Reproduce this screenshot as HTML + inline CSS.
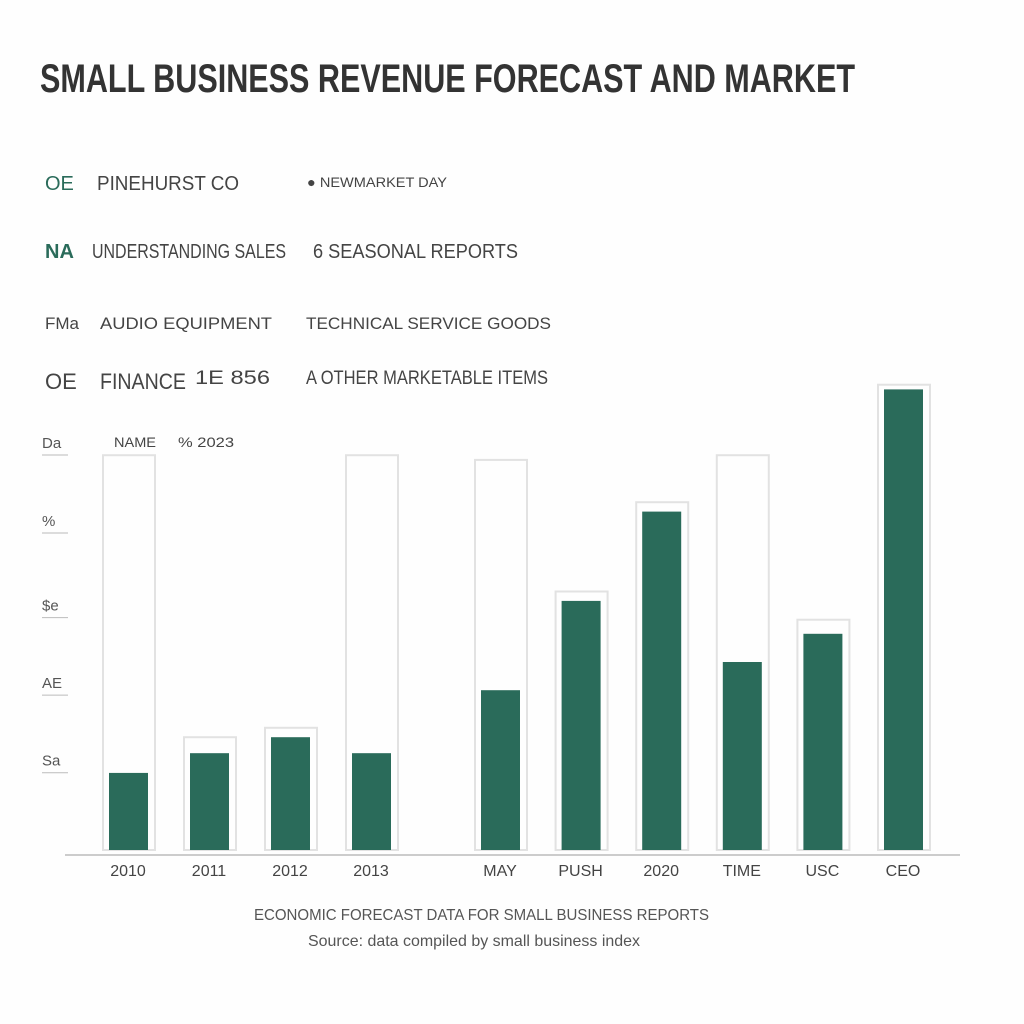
<!DOCTYPE html>
<html><head><meta charset="utf-8"><style>
body{margin:0;background:#fff;}
svg{display:block;font-family:"Liberation Sans",sans-serif;}
</style></head><body>
<svg width="1024" height="1024" viewBox="0 0 1024 1024">
<rect width="1024" height="1024" fill="#fefefe"/>
<text x="40" y="92" font-size="40" font-weight="bold" fill="#333" textLength="815" lengthAdjust="spacingAndGlyphs">SMALL BUSINESS REVENUE FORECAST AND MARKET</text>
<g font-size="20" fill="#444">
<text x="45" y="190" fill="#2a6b5a">OE</text>
<text x="97" y="190" textLength="142" lengthAdjust="spacingAndGlyphs">PINEHURST CO</text>
<text x="307" y="187" font-size="14" textLength="140" lengthAdjust="spacingAndGlyphs">● NEWMARKET DAY</text>
<text x="45" y="258" fill="#2a6b5a" font-weight="bold">NA</text>
<text x="92" y="258" textLength="194" lengthAdjust="spacingAndGlyphs">UNDERSTANDING SALES</text>
<text x="313" y="258" textLength="205" lengthAdjust="spacingAndGlyphs">6 SEASONAL REPORTS</text>
<text x="45" y="329" font-size="17">FMa</text>
<text x="100" y="329" font-size="17" textLength="172" lengthAdjust="spacingAndGlyphs">AUDIO EQUIPMENT</text>
<text x="306" y="329" font-size="17" textLength="245" lengthAdjust="spacingAndGlyphs">TECHNICAL SERVICE GOODS</text>
<text x="45" y="389" font-size="22">OE</text>
<text x="100" y="389" font-size="22" textLength="86" lengthAdjust="spacingAndGlyphs">FINANCE</text>
<text x="195" y="384" font-size="19" textLength="75" lengthAdjust="spacingAndGlyphs">1E 856</text>
<text x="306" y="384" font-size="19" textLength="242" lengthAdjust="spacingAndGlyphs">A OTHER MARKETABLE ITEMS</text>
<text x="114" y="447" font-size="14" textLength="42" lengthAdjust="spacingAndGlyphs">NAME</text>
<text x="178" y="447" font-size="14" textLength="56" lengthAdjust="spacingAndGlyphs">% 2023</text>
</g>
<g id="plot"></g>
<text x="254" y="920" font-size="16" fill="#555" textLength="455" lengthAdjust="spacingAndGlyphs">ECONOMIC FORECAST DATA FOR SMALL BUSINESS REPORTS</text>
<text x="308" y="946" font-size="16" fill="#555" textLength="332" lengthAdjust="spacingAndGlyphs">Source: data compiled by small business index</text>
</svg>
<script>
const categories=["2010","2011","2012","2013","MAY","PUSH","2020","TIME","USC","CEO"];
const values=[16.4,20.6,24,20.6,34,53,72,40,46,98];
const outlineValues=[84,24,26,84,83,55,74,84,49,99];
const yTicks=[19,35.5,52,70,86.6];
const yTickLabels=["Sa","AE","$e","%","Da"];
const NS="http://www.w3.org/2000/svg";
const plot=document.getElementById('plot');
const base=850,plotTop=380;
const y=v=>base-(base-plotTop)*v/100;
const x=i=>i<4?109+i*81:481+(i-4)*80.6;
function mk(t,a){const e=document.createElementNS(NS,t);for(const k in a)e.setAttribute(k,a[k]);plot.appendChild(e);return e;}
yTicks.forEach((t,i)=>{
 const e=mk('text',{x:42,y:y(t)+5,'font-size':15,fill:'#555'});e.textContent=yTickLabels[i];
 
 
 const l=mk('line',{x1:42,x2:68,y1:y(t)+12,y2:y(t)+12,stroke:'#bbb'});
 
 
});
const ax=mk('line',{x1:65,x2:960,y1:base+5,y2:base+5,stroke:'#ccc','stroke-width':2});


categories.forEach((c,i)=>{
 const bx=x(i);
 const o=mk('rect',{x:bx-6,y:y(outlineValues[i]),width:52,height:base-y(outlineValues[i]),fill:'none',stroke:'#e2e2e2','stroke-width':2});
 
 
 const b=mk('rect',{x:bx,y:y(values[i]),width:39,height:base-y(values[i]),fill:'#2a6b5a'});
 
 
 const t=mk('text',{x:bx+19,y:876,'font-size':16,fill:'#444','text-anchor':'middle'});t.textContent=c;
 
 
});
</script>
</body></html>
